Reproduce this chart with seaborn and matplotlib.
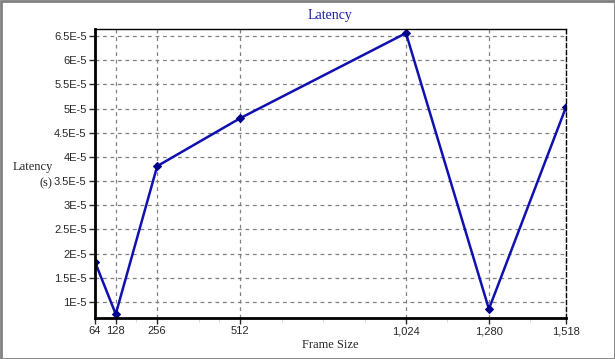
import matplotlib
matplotlib.use("Agg")
import matplotlib.pyplot as plt
import matplotlib.ticker as mticker
from matplotlib.patches import Rectangle
import seaborn as sns
import pandas as pd

frame_sizes = [64, 128, 256, 512, 1024, 1280, 1518]
latency = [1.83e-5, 0.75e-5, 3.81e-5, 4.80e-5, 6.56e-5, 0.855e-5, 5.03e-5]
y_ticks = [1e-5, 1.5e-5, 2e-5, 2.5e-5, 3e-5, 3.5e-5, 4e-5, 4.5e-5, 5e-5, 5.5e-5, 6e-5, 6.5e-5]
x_tick_labels = ["64", "128", "256", "512", "1,024", "1,280", "1,518"]

df = pd.DataFrame({"Frame Size": frame_sizes, "Latency": latency})

sns.set_style("white")
plt.rcParams['font.family'] = ['Liberation Sans', 'DejaVu Sans']

fig = plt.figure(figsize=(6.15, 3.59), dpi=100)
ax = fig.add_axes([95/615, 1-318/359, (566-95)/615, (318-29)/359])

line_color = "#1010b0"
sns.lineplot(data=df, x="Frame Size", y="Latency", ax=ax, color=line_color,
             linewidth=1.8, marker="D", markersize=4, markeredgecolor="#00008b",
             markerfacecolor="#00008b")

ax.set_xlim(64, 1518)
ax.set_ylim(0.67e-5, 6.645e-5)
ax.set_xticks(frame_sizes)
ax.set_xticklabels(x_tick_labels, fontsize=8)
ax.set_yticks(y_ticks)
ax.yaxis.set_major_formatter(mticker.FuncFormatter(lambda v, p: f"{v*1e5:g}E-5"))
ax.tick_params(axis='y', labelsize=8, length=4, width=1, direction='out', left=True, pad=2)
ax.tick_params(axis='x', labelsize=8, length=4, width=1, direction='out', bottom=True, pad=2)
ax.set_xticks([192, 384, 448, 640, 768, 896, 1152, 1408], minor=True)
ax.tick_params(axis='x', which='minor', length=3, color='#d0d0d0', bottom=True)

ax.grid(True, which='major', linestyle=(0, (3, 3)), color='#808080', linewidth=0.9)

for s in ['left', 'bottom']:
    ax.spines[s].set_linewidth(2.0)
    ax.spines[s].set_color('black')
ax.spines['top'].set_linewidth(1.0)
ax.spines['top'].set_color('black')
ax.spines['right'].set_linestyle((0, (3, 2)))
ax.spines['right'].set_linewidth(1.0)
ax.spines['right'].set_color('black')

ax.set_xlabel("Frame Size", family=['Liberation Serif'], fontsize=9, labelpad=2)
ax.set_ylabel("")
fig.text(33/615, 1-167/359, "Latency", family=['Liberation Serif'], fontsize=9,
         ha='center', va='center')
fig.text(52/615, 1-183/359, "(s)", family=['Liberation Serif'], fontsize=9,
         ha='right', va='center')
fig.text(330/615, 1-15/359, "Latency", family=['Liberation Serif'], fontsize=10,
         color="#2020a0", ha='center', va='center')

fig.patches.append(Rectangle((0.5/615, 0.5/359), 1-1/615, 1-1/359, transform=fig.transFigure,
                             fill=False, edgecolor='#808080', linewidth=2))

fig.savefig("out.png", dpi=100)
